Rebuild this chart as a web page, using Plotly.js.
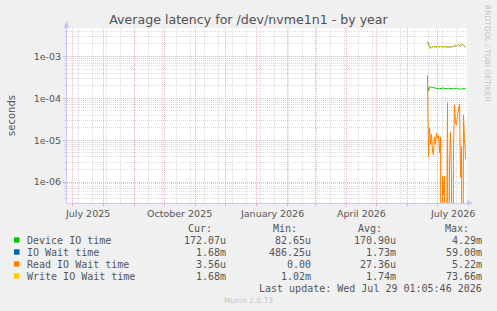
<!DOCTYPE html>
<html>
<head>
<meta charset="utf-8">
<script src="https://cdn.plot.ly/plotly-3.0.1.min.js"></script>
<style>
  html, body { margin: 0; padding: 0; background: #f0f0f0; }
  #chart { width: 497px; height: 311px; }
</style>
</head>
<body>
<div id="chart"></div>
<script>
// Daily samples (yearly view: one point per day)
const days = [
  '2026-06-21', '2026-06-22', '2026-06-23', '2026-06-24', '2026-06-25',
  '2026-06-26', '2026-06-27', '2026-06-28', '2026-06-29', '2026-06-30',
  '2026-07-01', '2026-07-02', '2026-07-03', '2026-07-04', '2026-07-05',
  '2026-07-06', '2026-07-07', '2026-07-08', '2026-07-09', '2026-07-10',
  '2026-07-11', '2026-07-12', '2026-07-13', '2026-07-14', '2026-07-15',
  '2026-07-16', '2026-07-17', '2026-07-18', '2026-07-19', '2026-07-20',
  '2026-07-21', '2026-07-22', '2026-07-23', '2026-07-24', '2026-07-25',
  '2026-07-26', '2026-07-27', '2026-07-28', '2026-07-29'
];

// seconds
const deviceIO = [
  1.90e-4, 1.50e-4, 1.85e-4, 1.88e-4, 1.86e-4, 1.84e-4, 1.80e-4, 1.78e-4, 1.76e-4, 1.72e-4,
  1.70e-4, 1.69e-4, 1.70e-4, 1.74e-4, 1.78e-4, 1.80e-4, 1.77e-4, 1.73e-4, 1.70e-4, 1.68e-4,
  1.71e-4, 1.74e-4, 1.72e-4, 1.69e-4, 1.67e-4, 1.66e-4, 1.68e-4, 1.72e-4, 1.75e-4, 1.74e-4,
  1.71e-4, 1.68e-4, 1.67e-4, 1.66e-4, 1.68e-4, 1.70e-4, 1.72e-4, 1.71e-4, 1.7207e-4
];
const ioWait = [
  2.24e-3, 1.99e-3, 1.61e-3, 1.56e-3, 1.65e-3, 1.70e-3, 1.74e-3, 1.72e-3, 1.68e-3, 1.70e-3,
  1.73e-3, 1.69e-3, 1.71e-3, 1.74e-3, 1.72e-3, 1.68e-3, 1.70e-3, 1.73e-3, 1.71e-3, 1.66e-3,
  1.65e-3, 1.69e-3, 1.72e-3, 1.70e-3, 1.67e-3, 1.74e-3, 1.78e-3, 1.83e-3, 1.80e-3, 1.76e-3,
  1.86e-3, 1.90e-3, 1.84e-3, 1.78e-3, 1.88e-3, 1.93e-3, 1.86e-3, 1.80e-3, 1.68e-3
];
const readWait = [
  3.6e-4, 4.0e-6, 2.0e-5, 8.0e-6, 1.4e-5, 5.5e-6, 4.5e-6, 1.2e-5, 8.0e-6, 1.5e-5,
  1.1e-5, 1.3e-5, 5.0e-6, 1.2e-5, 0, 1.4e-6, 5.0e-7, 1.4e-6, 0, 9.0e-7,
  7.8e-5, 0, 2.5e-6, 1.6e-5, 1.3e-6, 0, 6.0e-6, 7.0e-5, 2.6e-5, 2.3e-5,
  4.0e-5, 5.5e-5, 7.4e-5, 1.3e-6, 7.0e-6, 0, 4.0e-5, 1.1e-5, 3.56e-6
];
const writeWait = [
  2.25e-3, 2.00e-3, 1.62e-3, 1.56e-3, 1.65e-3, 1.70e-3, 1.74e-3, 1.72e-3, 1.68e-3, 1.70e-3,
  1.73e-3, 1.69e-3, 1.71e-3, 1.74e-3, 1.72e-3, 1.68e-3, 1.70e-3, 1.73e-3, 1.71e-3, 1.66e-3,
  1.65e-3, 1.69e-3, 1.72e-3, 1.70e-3, 1.67e-3, 1.74e-3, 1.78e-3, 1.83e-3, 1.80e-3, 1.76e-3,
  1.86e-3, 1.90e-3, 1.84e-3, 1.78e-3, 1.88e-3, 1.93e-3, 1.86e-3, 1.80e-3, 1.68e-3
];

const seriesNames = ['Device IO time', 'IO Wait time', 'Read IO Wait time', 'Write IO Wait time'];
const seriesColors = ['#00cc00', '#0066b3', '#ff8000', '#ffcc00'];
const statHeaders = ['Cur:', 'Min:', 'Avg:', 'Max:'];
const statRows = [
  ['172.07u', '82.65u', '170.90u', '4.29m'],
  ['1.68m', '486.25u', '1.73m', '59.00m'],
  ['3.56u', '0.00', '27.36u', '5.22m'],
  ['1.68m', '1.02m', '1.74m', '73.66m']
];

// x axis: monthly grid, quarterly labels
const monthStarts = [
  '2025-07-01', '2025-08-01', '2025-09-01', '2025-10-01', '2025-11-01', '2025-12-01',
  '2026-01-01', '2026-02-01', '2026-03-01', '2026-04-01', '2026-05-01', '2026-06-01', '2026-07-01'
];
const monthLabelAt = ['2025-07-16', '2025-10-16', '2026-01-16', '2026-04-16', '2026-07-16'];
const monthLabels = ['July 2025', 'October 2025', 'January 2026', 'April 2026', 'July 2026'];

// y axis: decades
const decadeVals = [1e-6, 1e-5, 1e-4, 1e-3];
const decadeLabels = ['1e-06', '1e-05', '1e-04', '1e-03'];

const lastUpdate = 'Last update: Wed Jul 29 01:05:46 2026';

// ---- geometry of the canvas ----
const W = 497, H = 311;
const PL = 67, PR = 467, PT = 28, PB = 203;
const px = x => (x - PL) / (PR - PL);
const py = y => (PB - y) / (PB - PT);

// minor log grid: 2..9 x 10^k
const minorY = [];
for (let k = -7; k <= -3; k++) {
  for (let m = 2; m <= 9; m++) minorY.push(m * Math.pow(10, k));
}

// log axes cannot show 0; send zero samples below the floor so the line drops off the plot
const onLog = v => (v > 0 ? v : 1e-12);

const allSeries = [deviceIO, ioWait, readWait, writeWait];
const traces = allSeries.map((vals, i) => ({
  type: 'scatter',
  mode: 'lines',
  x: days,
  y: vals.map(onLog),
  name: seriesNames[i],
  line: { color: seriesColors[i], width: 1 },
  hoverinfo: 'skip',
  showlegend: false
}));

const textGray = '#555555';
const axisBlue = '#c8c8f4';
const majorGrid = 'rgba(235,120,120,0.55)';
const minorGrid = '#dadada';

const annotations = [];
const shapes = [];

// time labels under the axis
monthLabelAt.forEach((d, i) => {
  annotations.push({
    x: d, xref: 'x', y: py(213), yref: 'paper',
    text: monthLabels[i], showarrow: false, xanchor: 'center', yanchor: 'middle',
    font: { family: 'DejaVu Sans', size: 9.5, color: textGray }, borderpad: 0
  });
});

// legend table
const mono = { family: 'DejaVu Sans Mono', size: 10, color: textGray };
const headRight = [213, 298, 383, 470];
const valRight = [227, 312, 397, 483];
const rowY = [240, 252, 264, 276];
statHeaders.forEach((h, j) => {
  annotations.push({
    x: px(headRight[j]), xref: 'paper', y: py(228.5), yref: 'paper',
    text: h, showarrow: false, xanchor: 'right', yanchor: 'middle', font: mono, borderpad: 0
  });
});
seriesNames.forEach((name, i) => {
  shapes.push({
    type: 'rect', xref: 'paper', yref: 'paper', layer: 'above',
    x0: px(14), x1: px(19.5), y0: py(rowY[i] + 2.7), y1: py(rowY[i] - 2.7),
    fillcolor: seriesColors[i], line: { width: 0 }
  });
  annotations.push({
    x: px(26), xref: 'paper', y: py(rowY[i]), yref: 'paper',
    text: name, showarrow: false, xanchor: 'left', yanchor: 'middle', font: mono, borderpad: 0
  });
  statRows[i].forEach((v, j) => {
    annotations.push({
      x: px(valRight[j]), xref: 'paper', y: py(rowY[i]), yref: 'paper',
      text: v, showarrow: false, xanchor: 'right', yanchor: 'middle', font: mono, borderpad: 0
    });
  });
});
annotations.push({
  x: px(483), xref: 'paper', y: py(288), yref: 'paper',
  text: lastUpdate, showarrow: false, xanchor: 'right', yanchor: 'middle', font: mono, borderpad: 0
});
annotations.push({
  x: px(248), xref: 'paper', y: py(300.5), yref: 'paper',
  text: 'Munin 2.0.73', showarrow: false, xanchor: 'center', yanchor: 'middle',
  font: { family: 'DejaVu Sans', size: 7.5, color: '#c4c4c4' }, borderpad: 0
});
annotations.push({
  x: px(488), xref: 'paper', y: py(53), yref: 'paper',
  text: 'RRDTOOL / TOBI OETIKER', showarrow: false, textangle: 90,
  xanchor: 'center', yanchor: 'middle',
  font: { family: 'DejaVu Sans', size: 7.5, color: '#c4c4c4' }, borderpad: 0
});

// axis arrow heads
const pt = (x, y) => px(x) + ',' + py(y);
shapes.push({
  type: 'path', xref: 'paper', yref: 'paper', layer: 'above',
  path: 'M' + pt(63.5, 28) + ' L' + pt(69.5, 28) + ' L' + pt(66.5, 21) + ' Z',
  fillcolor: axisBlue, line: { width: 0 }
});
shapes.push({
  type: 'path', xref: 'paper', yref: 'paper', layer: 'above',
  path: 'M' + pt(467, 200) + ' L' + pt(467, 206) + ' L' + pt(473, 203) + ' Z',
  fillcolor: axisBlue, line: { width: 0 }
});

const layout = {
  width: W, height: H,
  margin: { l: PL, r: W - PR, t: PT, b: H - PB, pad: 0 },
  paper_bgcolor: '#f0f0f0',
  plot_bgcolor: '#ffffff',
  showlegend: false,
  title: {
    text: 'Average latency for /dev/nvme1n1 - by year',
    x: 0.5, xref: 'container', xanchor: 'center',
    y: 1 - 20 / H, yref: 'container', yanchor: 'middle',
    font: { family: 'DejaVu Sans', size: 12.6, color: '#505050' }
  },
  xaxis: {
    type: 'date',
    range: ['2025-06-25 12:00', '2026-07-30 12:00'],
    tickmode: 'array', tickvals: monthStarts, ticktext: monthStarts.map(() => ''),
    showgrid: true, gridcolor: majorGrid, gridwidth: 1, griddash: '1px,1px',
    ticks: 'outside', ticklen: 2, tickcolor: majorGrid,
    minor: {
      tickmode: 'linear', tick0: '2025-07-07', dtick: 14 * 86400000,
      showgrid: true, gridcolor: minorGrid, gridwidth: 1, griddash: '1px,1px',
      ticks: ''
    },
    showline: true, linecolor: axisBlue, linewidth: 1,
    zeroline: false, fixedrange: true
  },
  yaxis: {
    type: 'log',
    range: [-6.5, -2.318],
    tickmode: 'array', tickvals: decadeVals, ticktext: decadeLabels,
    tickfont: { family: 'DejaVu Sans', size: 9.5, color: textGray },
    showgrid: true, gridcolor: majorGrid, gridwidth: 1, griddash: '1px,1px',
    ticks: 'outside', ticklen: 3, tickcolor: majorGrid,
    minor: {
      tickmode: 'array', tickvals: minorY,
      showgrid: true, gridcolor: minorGrid, gridwidth: 1, griddash: '1px,1px',
      ticks: 'outside', ticklen: 2, tickcolor: minorGrid
    },
    showline: true, linecolor: axisBlue, linewidth: 1,
    zeroline: false, fixedrange: true,
    title: {
      text: 'seconds', standoff: 16,
      font: { family: 'DejaVu Sans', size: 10, color: textGray }
    }
  },
  annotations: annotations,
  shapes: shapes
};

Plotly.newPlot('chart', traces, layout, { staticPlot: true, displayModeBar: false });
</script>
</body>
</html>
